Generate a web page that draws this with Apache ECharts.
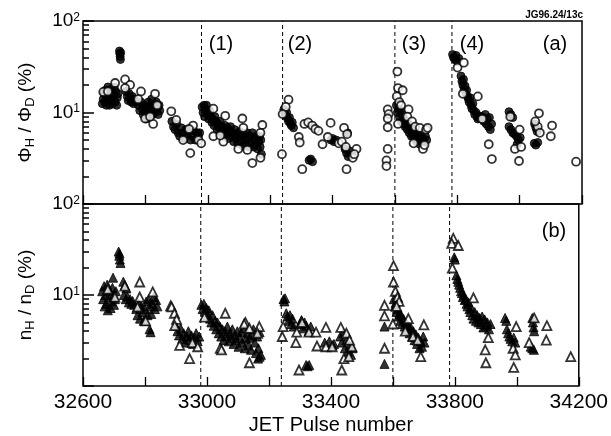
<!DOCTYPE html>
<html><head><meta charset="utf-8">
<script src="https://cdn.jsdelivr.net/npm/echarts@6/dist/echarts.min.js"></script>
<style>html,body{margin:0;padding:0;background:#fff}#c{width:611px;height:436px}</style>
</head><body><div id="c"></div>
<script>
// ---- data ----
const xLabelValues = [32600, 33000, 33400, 33800, 34200];
const yMajorValues = [10, 100];
const yMinorValues = [2,3,4,5,6,7,8,9,20,30,40,50,60,70,80,90];
const phaseBoundaries = [32980, 33240, 33600, 33783];
const phaseLabels = ['(1)', '(2)', '(3)', '(4)'];

const phiFilled = [
[32662,12.5],[32665,14],[32667,16],[32670,13],[32672,17.5],[32675,12],[32677,15],[32680,19],[32682,13.5],[32685,12],[32688,16],[32690,18],[32692,14],[32695,12.5],[32698,15.5],[32700,19],[32703,13],[32705,17],[32708,12],[32710,14.5],[32712,16],
[32717,47],[32718,44],[32719,41],[32720,38],[32721,45],
[32738,17],[32742,15],[32745,13.5],[32748,16],[32752,14],[32755,13],[32758,15],[32762,12.5],[32765,14],[32768,13],
[32778,12],[32782,10.5],[32786,13],[32790,11],[32793,9.5],[32797,12],[32800,10],[32803,8.5],[32806,11.5],[32810,13],[32812,9],[32815,10.5],[32818,12],[32820,14],[32823,9.5],[32826,11],[32829,12.5],[32832,10],[32835,13],[32838,11],[32841,9.5],[32844,12],[32846,10.5],
[32885,8],[32890,7],[32895,6.5],[32900,7.5],[32905,6],[32910,5.5],[32915,6.8],[32920,6],[32925,5.2],[32930,6.5],[32935,5.8],[32940,6.2],[32945,5],[32950,5.5],[32955,6.3],[32960,5],[32965,6],[32970,5.5],[32974,6],
[32982,11.5],[32985,10],[32988,12],[32990,9],[32993,10.8],[32996,12],[33000,9.5],[33003,8.5],[33006,10.5],[33010,9],[33013,7.8],[33016,8.5],[33020,7.2],[33023,9],[33026,8],[33030,6.5],[33033,7.5],[33036,6.8],[33040,8],[33043,6],[33046,7],[33050,5.5],[33053,6.5],[33056,7.2],[33060,5.8],[33063,6.8],[33066,5.2],[33070,6.2],[33073,7],[33076,5.5],[33080,6],[33083,4.8],[33086,6.5],[33090,5.2],[33093,5.8],[33096,4.6],[33100,5.5],[33103,6.2],[33106,4.8],[33110,5.5],[33113,4.3],[33116,5.8],[33120,5],[33123,4.5],[33126,6],[33130,5.2],[33133,4.2],[33136,5.5],[33140,4.8],[33143,6],[33146,4.2],[33150,5],[33153,4.5],[33156,5.5],[33160,4],[33163,4.8],[33166,5.5],[33168,4.2],[33172,3.5],[33170,5],
[33244,10.8],[33247,9.8],[33250,9.2],[33253,10],[33256,8.6],[33259,8],[33262,8.8],[33265,7.6],[33268,7.2],[33271,7.8],[33275,6.8],[33325,3.0],[33330,3.1],[33336,2.9],[33395,5],[33400,5.2],[33405,4.8],[33412,5],[33440,4],[33445,3.6],[33450,3.3],[33455,3.8],[33460,3.4],[33448,6],
[33605,12],[33608,10],[33612,11],[33615,9],[33618,10.5],[33620,8],[33624,9.5],[33627,7.5],[33630,8.5],[33633,7],[33636,8],[33640,6.5],[33643,7.5],[33646,6],[33650,7],[33653,5.5],[33656,6.5],[33660,5.2],[33663,6],[33666,5.5],[33670,4.8],[33673,5.8],[33676,5],[33680,4.5],[33683,5.5],[33686,4.8],[33690,5.2],[33694,4.6],[33698,5.5],[33702,5],
[33785,43],[33788,40],[33792,38],[33796,42],[33800,36],[33805,39],[33812,25],[33815,22],[33818,20],[33820,23],[33822,18],[33825,19.5],[33828,16],[33830,17.5],[33833,15],[33836,14],[33838,13],[33841,14.5],[33844,12],[33847,11],[33850,12.5],[33853,10.5],[33856,9.5],[33860,10],[33863,9],[33866,8.5],[33870,9.2],[33875,8.5],[33880,9],[33885,8],[33890,9.5],[33893,7.5],[33896,8.5],[33900,7],[33903,8.8],[33906,6.5],[33910,7.5],
[33966,10.2],[33972,9.5],[33978,8.8],[33966,7],[33972,6.5],[33978,6],[33984,5.8],[33990,5.5],[33996,5],[34002,5.3],[33992,4.5],
[34048,7.5],[34052,6.8],[34056,6.2],[34047,4.6],[34052,4.4],[34058,4.7]
];
const phiOpen = [
[32665,16.8],[32680,17],[32703,21],[32735,23],[32751,20],[32735,18.5],[32786,17],[32831,16],[32777,14],[32838,12],[32799,8.6],[32825,7.5],[32815,9],
[32883,10.3],[32899,8.3],[32921,5],[32944,3.6],[32953,7.2],[32940,6.6],[32970,5],[32979,4.6],
[33018,11],[33056,9.2],[33111,8.6],[33114,6.8],[33175,7.3],[33169,6],[33143,2.8],[33169,3.2],[33050,4.8],[33127,3.9],[33018,5.5],[33098,4],[33040,5.6],
[33259,13.8],[33250,11.5],[33240,9.6],[33238,3.5],[33292,5.4],[33295,4.7],[33303,2.4],[33310,7.5],[33322,7.8],[33335,7.2],[33345,6.6],[33355,6.3],[33394,7.7],[33368,4.5],[33385,5.4],[33420,4.6],[33430,4.8],[33437,6.8],[33447,5.8],[33443,4.2],[33465,3.2],[33445,2.4],[33477,4],[33470,3.5],
[33577,10.8],[33580,9.6],[33577,8.6],[33577,6.9],[33577,4],[33573,3],[33573,2.6],
[33608,28],[33610,18.5],[33625,17.5],[33606,15],[33614,13],[33620,12],[33644,10.8],[33640,9],[33655,8],[33610,7.5],[33665,7],[33680,6.8],[33690,4],[33700,6.5],[33705,6.8],[33695,4.4],[33660,4.6],
[33801,31],[33821,35],[33818,16],[33866,15],[33880,8.5],[33901,4.5],[33911,3.1],
[33970,9],[33985,4],[34000,6.5],[34005,4.2],[33998,2.95],[34062,9.8],[34058,7],[34065,6],[34050,8],[34104,7.2],[34100,5.5],[34181,2.9]
];
const nFilled = [
[32662,11],[32665,9],[32668,12.5],[32670,7.5],[32672,10],[32675,8],[32678,13],[32680,6.8],[32683,9.5],[32686,11],[32689,7.2],[32692,8.5],[32695,12],[32698,10],[32700,7.8],[32703,9],[32706,11],[32697,15.5],
[32715,30],[32717,27],[32719,24.5],[32721,22.5],[32718,28.5],
[32730,14],[32735,12.8],[32740,11.8],
[32732,10],[32738,9],[32743,9.6],[32748,8.3],[32752,9],[32756,8],[32760,8.6],[32765,7.8],
[32772,7],[32776,6],[32780,8],[32784,5.5],[32788,7.5],[32792,6.5],[32796,5.2],[32800,7],[32804,8.5],[32808,6],[32812,9],[32816,7.5],[32820,6.2],[32824,8],[32828,9.5],[32832,7],[32836,8.8],[32840,7.5],
[32815,4.2],[32818,3.9],
[32900,4.6],[32905,4],[32910,3.6],[32915,4.3],[32920,3.3],[32925,3.8],[32930,3],[32935,3.5],[32940,4],[32945,3.2],[32950,3.6],[32955,2.9],[32960,3.4],[32965,3.8],[32970,3.1],[32975,3.5],
[32982,7.8],[32986,7],[32990,8],[32994,6.5],[32998,7.2],[33002,6],[33006,6.8],[33010,5.5],[33014,5],[33018,6],[33022,4.6],[33026,5.2],[33030,4.2],[33034,5],[33038,3.8],[33042,4.5],[33046,3.5],[33050,4.2],[33054,3.2],[33058,4],[33062,3.6],[33066,4.5],[33070,3.1],[33074,3.8],[33078,3.4],[33082,4.2],[33086,2.9],[33090,3.6],[33094,3.2],[33098,4],[33102,2.7],[33106,3.4],[33110,3.9],[33114,3],[33118,4.3],[33122,2.6],[33126,3.3],[33130,3.8],[33134,2.8],[33138,3.4],[33142,2.5],[33146,3.6],[33150,4.2],[33154,3],[33158,2.3],[33162,3.5],[33166,2.6],[33170,3.9],[33174,2.2],[33165,2],[33170,2.1],
[33247,9],[33250,8.5],[33252,9.2],[33256,6.3],[33260,5.8],[33264,5.2],[33268,6],[33272,4.8],[33276,5.5],[33280,4.5],[33300,4.8],[33305,5.3],[33310,4.3],[33315,5],[33320,4.6],[33328,4],[33335,4.5],[33320,1.7],[33325,1.65],[33330,1.7],[33380,3],[33395,3.1],[33405,2.8],[33410,2.9],[33430,3.5],[33435,3],[33440,3.8],[33445,2.6],[33450,3.2],[33455,2.4],[33460,2.8],[33465,2.2],[33470,2.6],
[33573,4.5],[33573,1.75],
[33603,9],[33606,7.5],[33609,8.2],[33612,6.5],[33615,7],[33618,5.8],[33621,6.2],[33624,5.2],[33627,6],[33630,4.8],[33634,5.5],[33638,4.5],[33642,5],[33646,4.2],[33650,4.6],[33654,3.8],[33658,4.4],[33662,3.5],[33666,4],[33670,3.2],[33674,3.7],[33678,2.9],[33682,3.4],[33686,2.6],[33690,3.1],[33694,2.7],[33698,3.5],[33702,3],
[33798,26],[33800,24.5],[33805,16.5],[33808,15],[33811,14],[33814,13],[33817,12],[33820,11],[33823,10.5],[33826,9.5],[33829,10],[33832,8.8],[33835,9],[33838,8],[33841,7.5],[33844,8.3],[33847,7],[33850,6.5],[33853,7.2],[33856,6],[33860,5.5],[33864,6.5],[33868,5.2],[33872,6],[33876,5],[33880,5.6],[33884,4.8],[33888,5.8],[33892,4.4],[33896,5.4],[33900,4.6],[33905,5],[33910,4.2],[33915,4.8],
[33962,5.6],[33966,5.2],[33968,4.2],[33972,3.8],[33976,3.5],[33980,3.3],[33985,3.1],[33990,3.4],[33995,3],
[34050,5.6],[34052,5],[34054,4.4],[34056,4],[34045,2.7],[34050,2.6],[34055,2.5]
];
const nOpen = [
[32680,11.6],[32703,9.5],[32735,12.5],[32783,13.9],[32783,9.5],[32825,10.8],[32776,7.4],[32802,5.2],
[32883,7.6],[32886,7.4],[32895,6.3],[32902,5.4],[32896,4.6],[32912,2.8],[32944,2],[32953,3],[32970,2.7],
[32992,5.7],[33059,6.3],[33124,5],[33120,4.8],[33137,4.3],[33169,4.5],[33163,3.8],[33043,2.6],[33047,2.5],[33137,1.8],
[33243,3.5],[33246,4.5],[33287,3.0],[33290,3.9],[33307,5],[33329,3.9],[33352,3.9],[33384,4.4],[33355,2.75],[33384,2.7],[33404,2.7],[33297,1.5],[33435,1.5],[33432,4.4],[33450,3.8],[33442,2.0],[33458,2.1],[33468,2.7],[33460,3.2],
[33573,7.7],[33573,5.9],[33573,2.6],[33602,21],[33602,13.9],[33608,11],[33615,9.5],[33620,8.5],[33612,7.5],[33600,4.8],[33640,4],[33650,5.5],[33665,3.5],[33690,2.1],[33700,4.7],[33680,3.2],
[33795,42],[33790,37],[33811,35],[33792,19.8],[33860,9.3],[33908,3.4],[33898,2.5],[33900,1.8],
[33998,4.5],[33988,2.6],[33995,2.2],[33990,1.6],[34056,5.6],[34040,3.0],[34097,4.6],[34095,3.2],[34174,2.1]
];

// ---- chart ----
const FONT = 'Liberation Sans';
const chart = echarts.init(document.getElementById('c'));

function xAxisFor(gi, withLabels) {
  const ax = {
    gridIndex: gi, type: 'value', min: 32600, max: 34200, interval: 200,
    axisLine: {show: false},
    axisTick: {show: true, inside: true, length: 9, lineStyle: {color: '#000', width: 1.3}},
    axisLabel: withLabels ? {show: true, customValues: xLabelValues, formatter: v => String(v), color: '#000', fontFamily: FONT, fontSize: 21, margin: 6} : {show: false},
    splitLine: {show: false}
  };
  if (withLabels) {
    ax.name = 'JET Pulse number';
    ax.nameLocation = 'middle';
    ax.nameGap = 29;
    ax.nameTextStyle = {color: '#000', fontFamily: FONT, fontSize: 20};
  }
  return ax;
}
function yLeftFor(gi, nameRich) {
  return {
    gridIndex: gi, type: 'log', logBase: 10, min: 1, max: 100, position: 'left',
    axisLine: {show: false},
    axisTick: {show: true, inside: true, length: 11, lineStyle: {color: '#000', width: 1.5}},
    axisLabel: {
      show: true, customValues: yMajorValues, margin: 3,
      formatter: v => '{b|10}{s|' + Math.round(Math.log10(v)) + '}',
      rich: {
        b: {fontFamily: FONT, fontSize: 19, color: '#000'},
        s: {fontFamily: FONT, fontSize: 12, color: '#000', verticalAlign: 'top', padding: [0, 0, 7, 0]}
      }
    },
    splitLine: {show: false},
    name: nameRich, nameLocation: 'middle', nameGap: 46, nameRotate: 90,
    nameTextStyle: {
      rich: {
        m: {fontFamily: FONT, fontSize: 19, color: '#000'},
        d: {fontFamily: FONT, fontSize: 13, color: '#000', verticalAlign: 'bottom', padding: [9, 0, 0, 0]}
      }
    }
  };
}
// minor ticks: companion axis in decade (exponent) units, 0..2 = 10^0..10^2
function yMinorFor(gi) {
  return {
    gridIndex: gi, type: 'value', min: 0, max: 2, position: 'left',
    axisLine: {show: false},
    axisTick: {show: true, inside: true, length: 6, customValues: yMinorValues.map(v => Math.log10(v)), lineStyle: {color: '#000', width: 1.5}},
    axisLabel: {show: false}, splitLine: {show: false}
  };
}
const filledStyle = {color: '#000', borderColor: '#000', borderWidth: 1};
const openStyle = {color: '#fff', borderColor: '#000', borderWidth: 1.8};

const textStyle = {fontFamily: FONT, fontSize: 20, fill: '#000', textAlign: 'center', textVerticalAlign: 'middle'};
const phaseX = [221, 300, 414, 472];

// phase boundary dashed lines as line series spanning each panel (1 .. 100)
function boundarySeries(xi, yi) {
  return phaseBoundaries.map(v => ({
    type: 'line', xAxisIndex: xi, yAxisIndex: yi, silent: true, symbol: 'none', z: 1,
    lineStyle: {color: '#000', type: [4, 3], width: 1},
    data: [[v, 1], [v, 100]]
  }));
}

chart.setOption({
  animation: false,
  grid: [
    {left: 83, top: 21, width: 499, height: 183, show: true, borderColor: '#000', borderWidth: 1.5, backgroundColor: 'transparent'},
    {left: 83, top: 204, width: 499, height: 182, show: true, borderColor: '#000', borderWidth: 1.5, backgroundColor: 'transparent'}
  ],
  xAxis: [xAxisFor(0, false), xAxisFor(1, true)],
  yAxis: [
    yLeftFor(0, '{m|Φ}{d|H}{m| / Φ}{d|D}{m| (%)}'),
    yMinorFor(0),
    yLeftFor(1, '{m|n}{d|H}{m| / n}{d|D}{m| (%)}'),
    yMinorFor(1)
  ],
  series: [
    ...boundarySeries(0, 0),
    ...boundarySeries(1, 2),
    {type: 'scatter', xAxisIndex: 0, yAxisIndex: 0, symbol: 'circle', symbolSize: 8, data: phiFilled, itemStyle: filledStyle},
    {type: 'scatter', xAxisIndex: 0, yAxisIndex: 0, symbol: 'circle', symbolSize: 8, data: phiOpen, itemStyle: openStyle},
    {type: 'scatter', xAxisIndex: 1, yAxisIndex: 2, symbol: 'triangle', symbolSize: 9, data: nFilled, itemStyle: filledStyle},
    {type: 'scatter', xAxisIndex: 1, yAxisIndex: 2, symbol: 'triangle', symbolSize: 9, data: nOpen, itemStyle: openStyle}
  ]
});
chart.setOption({
  graphic: [
    ...phaseLabels.map((t, i) => ({type: 'text', x: phaseX[i], y: 44, style: Object.assign({text: t}, textStyle)})),
    {type: 'text', x: 555, y: 44, style: Object.assign({text: '(a)'}, textStyle)},
    {type: 'text', x: 554, y: 231, style: Object.assign({text: '(b)'}, textStyle)},
    {type: 'text', x: 583, y: 15, style: {text: 'JG96.24/13c', fontFamily: FONT, fontSize: 10, fontWeight: 'bold', fill: '#000', textAlign: 'right', textVerticalAlign: 'middle'}}
  ]
});
</script></body></html>
